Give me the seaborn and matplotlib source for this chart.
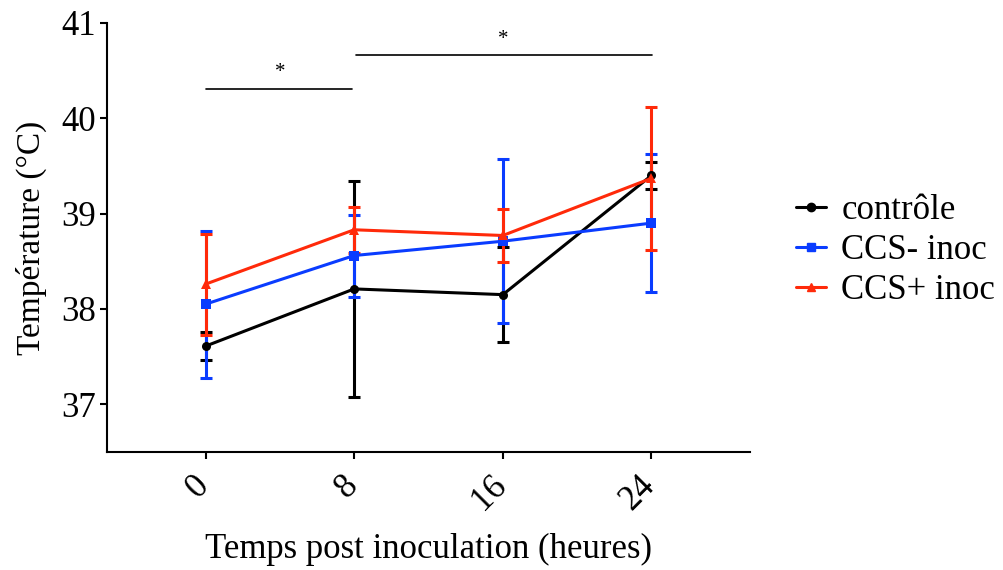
import pandas as pd
import numpy as np
import matplotlib.pyplot as plt
import matplotlib.transforms as mtransforms
import seaborn as sns

# données
temps = [0, 8, 16, 24]
groupes = ['contrôle', 'CCS- inoc', 'CCS+ inoc']
controle = [37.61, 38.21, 38.15, 39.40]
controle_err = [0.15, 1.13, 0.50, 0.14]
ccs_moins = [38.05, 38.56, 38.71, 38.90]
ccs_moins_err = [0.77, 0.43, 0.86, 0.72]
ccs_plus = [38.26, 38.83, 38.77, 39.37]
ccs_plus_err = [0.53, 0.24, 0.28, 0.75]

couleurs = ['black', '#0a3cff', '#ff2a0a']
marqueurs = ['o', 's', '^']

df = pd.DataFrame({
    'temps': temps * 3,
    'temp': controle + ccs_moins + ccs_plus,
    'err': controle_err + ccs_moins_err + ccs_plus_err,
    'groupe': [g for g in groupes for _ in temps],
})

sns.set_style('ticks')
plt.rcParams['font.family'] = ['Liberation Serif', 'DejaVu Serif']
plt.rcParams.update({'text.color': 'black', 'axes.labelcolor': 'black',
                     'xtick.color': 'black', 'ytick.color': 'black'})

fig = plt.figure(figsize=(10.04, 5.70), dpi=100)
ax = fig.add_axes([0.1066, 0.207, 0.6404, 0.753])

for g, c in zip(groupes, couleurs):
    d = df[df['groupe'] == g]
    ax.errorbar(d['temps'], d['temp'], yerr=d['err'], fmt='none', ecolor=c,
                elinewidth=2.2, capsize=4, capthick=2.2, zorder=2)

sns.lineplot(data=df, x='temps', y='temp', hue='groupe', style='groupe',
             palette=couleurs, markers=marqueurs, dashes=False, linewidth=2.2,
             markersize=6.5, markeredgewidth=0, ax=ax, zorder=3, legend=False)

# barres de significativité
ax.plot([0, 7.9], [40.31, 40.31], color='black', lw=1.2)
ax.text(4, 40.38, '*', ha='center', va='bottom', fontsize=15)
ax.plot([8.1, 24.05], [40.66, 40.66], color='black', lw=1.2)
ax.text(16, 40.73, '*', ha='center', va='bottom', fontsize=15)

ax.set_xlim(-5.3, 29.3)
ax.set_ylim(36.5, 41)
ax.set_xticks(temps)
ax.set_xticklabels([str(t) for t in temps], rotation=45, ha='right', fontsize=25)
ax.set_yticks([37, 38, 39, 40, 41])
ax.tick_params(axis='y', labelsize=25, pad=3)
ax.tick_params(axis='x', pad=7)
ax.tick_params(width=1.5, length=5, color='black')
# petit décalage des étiquettes vers la droite (après tick_params)
decal = mtransforms.ScaledTranslation(10 / 100, 0, fig.dpi_scale_trans)
for lab in ax.get_xticklabels():
    lab.set_transform(lab.get_transform() + decal)
ax.set_xlabel('Temps post inoculation (heures)', fontsize=25, labelpad=12)
ax.set_ylabel('Température (°C)', fontsize=24, labelpad=10)
sns.despine(ax=ax)
for s in ['left', 'bottom']:
    ax.spines[s].set_linewidth(1.5)
    ax.spines[s].set_color('black')

handles = [plt.Line2D([], [], color=c, marker=m, lw=2.2, markersize=6)
           for c, m in zip(couleurs, marqueurs)]
fig.legend(handles, groupes, loc='center left', bbox_to_anchor=(0.793, 0.56),
           frameon=False, fontsize=25, handlelength=0.85, handletextpad=0.45,
           labelspacing=0.2, borderpad=0, borderaxespad=0)

fig.savefig('out.png', dpi=100)
